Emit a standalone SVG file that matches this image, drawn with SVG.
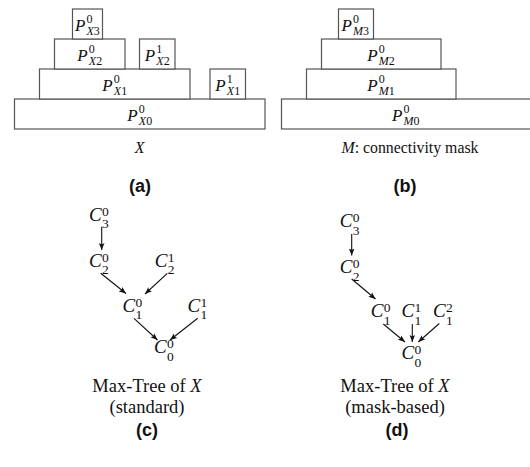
<svg xmlns="http://www.w3.org/2000/svg" width="530" height="467" viewBox="0 0 530 467">
<style>
.bx{fill:#fff;stroke:#555;stroke-width:1.2}
.p{font-family:"Liberation Serif",serif;font-style:italic;font-size:17px;fill:#111}
.ps{font-style:normal;font-size:12px}
.c{font-family:"Liberation Serif",serif;font-style:italic;font-size:19px;fill:#111}
.cs{font-style:normal;font-size:13.5px}
.it{font-style:italic}
.cap{font-family:"Liberation Serif",serif;font-size:15.8px;fill:#111;text-anchor:middle}
.cap2{font-family:"Liberation Serif",serif;font-size:18.5px;fill:#111;text-anchor:middle}
.lab{font-family:"Liberation Sans",Arial,sans-serif;font-weight:bold;font-size:18px;fill:#111;text-anchor:middle}
.ed{stroke:#111;stroke-width:1.1;fill:none;marker-end:url(#ah)}
</style>
<defs>
<marker id="ah" viewBox="0 0 10 10" refX="10" refY="5" markerWidth="7" markerHeight="7" markerUnits="userSpaceOnUse" orient="auto">
<path d="M0,1 L10,5 L0,9 L2,5 z" fill="#111"/>
</marker>
</defs>

<!-- Panel (a) -->
<g id="PX0"><rect class="bx" x="14.5" y="99" width="250.5" height="30"/>
<text class="p" x="127.3" y="120.5">P<tspan class="ps" x="138.8" y="113">0</tspan><tspan class="ps" x="138.8" y="124.5"><tspan class="it">X</tspan>0</tspan></text></g>
<g id="PX1_0"><rect class="bx" x="39.5" y="69" width="150.5" height="30"/>
<text class="p" x="102.3" y="90.5">P<tspan class="ps" x="113.8" y="83">0</tspan><tspan class="ps" x="113.8" y="94.5"><tspan class="it">X</tspan>1</tspan></text></g>
<g id="PX1_1"><rect class="bx" x="210" y="69" width="35.5" height="30"/>
<text class="p" x="215.3" y="90.5">P<tspan class="ps" x="226.8" y="83">1</tspan><tspan class="ps" x="226.8" y="94.5"><tspan class="it">X</tspan>1</tspan></text></g>
<g id="PX2_0"><rect class="bx" x="54.5" y="39" width="70.5" height="30"/>
<text class="p" x="77.3" y="60.5">P<tspan class="ps" x="88.8" y="53">0</tspan><tspan class="ps" x="88.8" y="64.5"><tspan class="it">X</tspan>2</tspan></text></g>
<g id="PX2_1"><rect class="bx" x="139.5" y="39" width="35.5" height="30"/>
<text class="p" x="144.8" y="60.5">P<tspan class="ps" x="156.3" y="53">1</tspan><tspan class="ps" x="156.3" y="64.5"><tspan class="it">X</tspan>2</tspan></text></g>
<g id="PX3"><rect class="bx" x="72.5" y="9" width="30" height="30"/>
<text class="p" x="75" y="30.5">P<tspan class="ps" x="86.5" y="23">0</tspan><tspan class="ps" x="86.5" y="34.5"><tspan class="it">X</tspan>3</tspan></text></g>
<text class="cap" x="139.7" y="152.5" font-style="italic">X</text>
<text class="lab" x="140" y="192">(a)</text>

<!-- Panel (b) -->
<g id="PM0"><rect class="bx" x="281.5" y="99" width="252" height="30"/>
<text class="p" x="392" y="120.5">P<tspan class="ps" x="403.5" y="113">0</tspan><tspan class="ps" x="403.5" y="124.5"><tspan class="it">M</tspan>0</tspan></text></g>
<g id="PM1"><rect class="bx" x="306.5" y="69" width="149.5" height="30"/>
<text class="p" x="367.3" y="90.5">P<tspan class="ps" x="378.8" y="83">0</tspan><tspan class="ps" x="378.8" y="94.5"><tspan class="it">M</tspan>1</tspan></text></g>
<g id="PM2"><rect class="bx" x="321.5" y="39" width="119.5" height="30"/>
<text class="p" x="367.3" y="60.5">P<tspan class="ps" x="378.8" y="53">0</tspan><tspan class="ps" x="378.8" y="64.5"><tspan class="it">M</tspan>2</tspan></text></g>
<g id="PM3"><rect class="bx" x="338.5" y="9" width="35" height="30"/>
<text class="p" x="341.5" y="30.5">P<tspan class="ps" x="353" y="23">0</tspan><tspan class="ps" x="353" y="34.5"><tspan class="it">M</tspan>3</tspan></text></g>
<text class="cap" x="410" y="152.5"><tspan class="it">M</tspan>: connectivity mask</text>
<text class="lab" x="405" y="192">(b)</text>

<!-- Panel (c) -->
<g id="c_C30"><text class="c" x="89" y="220.7">C<tspan class="cs" x="102" y="215.5">0</tspan><tspan class="cs" x="102" y="228">3</tspan></text></g>
<g id="c_C20"><text class="c" x="89" y="266.7">C<tspan class="cs" x="102" y="261.5">0</tspan><tspan class="cs" x="102" y="274">2</tspan></text></g>
<g id="c_C21"><text class="c" x="154.7" y="266.7">C<tspan class="cs" x="167.7" y="261.5">1</tspan><tspan class="cs" x="167.7" y="274">2</tspan></text></g>
<g id="c_C10"><text class="c" x="122.4" y="311.7">C<tspan class="cs" x="135.4" y="306.5">0</tspan><tspan class="cs" x="135.4" y="319">1</tspan></text></g>
<g id="c_C11"><text class="c" x="187.4" y="311.7">C<tspan class="cs" x="200.4" y="306.5">1</tspan><tspan class="cs" x="200.4" y="319">1</tspan></text></g>
<g id="c_C00"><text class="c" x="154" y="353.3">C<tspan class="cs" x="167" y="348.1">0</tspan><tspan class="cs" x="167" y="360.6">0</tspan></text></g>
<g id="c_edges">
<path class="ed" d="M101.7,226.7 L101.7,250"/>
<path class="ed" d="M100.7,273.3 L126,293.5"/>
<path class="ed" d="M167.3,273.3 L145,294"/>
<path class="ed" d="M134,318.3 L157.5,340"/>
<path class="ed" d="M197.7,318.3 L170,340"/>
</g>
<text class="cap2" x="147" y="392"><tspan>Max-Tree of </tspan><tspan class="it">X</tspan></text>
<text class="cap2" x="147" y="413">(standard)</text>
<text class="lab" x="147" y="436">(c)</text>

<!-- Panel (d) -->
<g id="d_C30"><text class="c" x="339.7" y="227.3">C<tspan class="cs" x="352.7" y="222.1">0</tspan><tspan class="cs" x="352.7" y="234.6">3</tspan></text></g>
<g id="d_C20"><text class="c" x="339.7" y="273.3">C<tspan class="cs" x="352.7" y="268.1">0</tspan><tspan class="cs" x="352.7" y="280.6">2</tspan></text></g>
<g id="d_C10"><text class="c" x="370.7" y="317.3">C<tspan class="cs" x="383.7" y="312.1">0</tspan><tspan class="cs" x="383.7" y="324.6">1</tspan></text></g>
<g id="d_C11"><text class="c" x="401.4" y="317.3">C<tspan class="cs" x="414.4" y="312.1">1</tspan><tspan class="cs" x="414.4" y="324.6">1</tspan></text></g>
<g id="d_C12"><text class="c" x="433" y="317.3">C<tspan class="cs" x="446" y="312.1">2</tspan><tspan class="cs" x="446" y="324.6">1</tspan></text></g>
<g id="d_C00"><text class="c" x="401.4" y="359.3">C<tspan class="cs" x="414.4" y="354.1">0</tspan><tspan class="cs" x="414.4" y="366.6">0</tspan></text></g>
<g id="d_edges">
<path class="ed" d="M351.7,234 L351.7,255.5"/>
<path class="ed" d="M351.7,279 L375.5,299"/>
<path class="ed" d="M383.3,324 L405,342"/>
<path class="ed" d="M412.3,324 L412.3,342"/>
<path class="ed" d="M439.3,323.5 L418.3,342"/>
</g>
<text class="cap2" x="395" y="392"><tspan>Max-Tree of </tspan><tspan class="it">X</tspan></text>
<text class="cap2" x="395" y="413">(mask-based)</text>
<text class="lab" x="397" y="436">(d)</text>
</svg>
